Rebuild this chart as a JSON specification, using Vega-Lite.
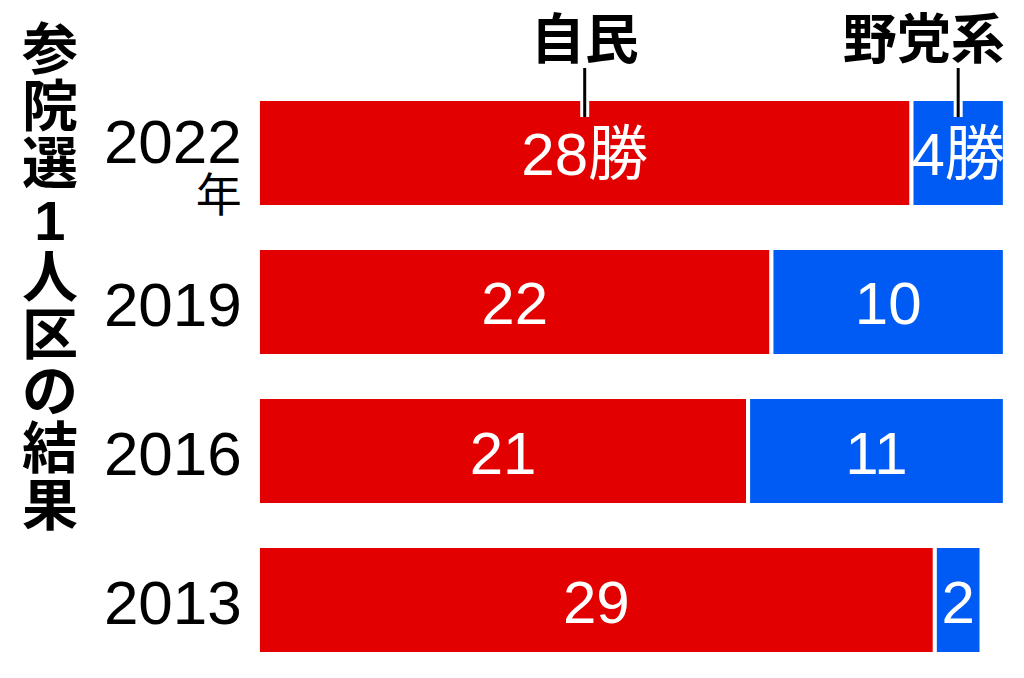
{
  "$schema": "https://vega.github.io/schema/vega-lite/v6.json",
  "width": 1024,
  "height": 678,
  "padding": 0,
  "autosize": {"type": "none"},
  "background": "white",
  "config": {"view": {"stroke": null}},
  "datasets": {
    "wins": [
      {"year": "2022", "party": "自民", "wins": 28, "label": "28勝"},
      {"year": "2022", "party": "野党系", "wins": 4, "label": "4勝"},
      {"year": "2019", "party": "自民", "wins": 22, "label": "22"},
      {"year": "2019", "party": "野党系", "wins": 10, "label": "10"},
      {"year": "2016", "party": "自民", "wins": 21, "label": "21"},
      {"year": "2016", "party": "野党系", "wins": 11, "label": "11"},
      {"year": "2013", "party": "自民", "wins": 29, "label": "29"},
      {"year": "2013", "party": "野党系", "wins": 2, "label": "2"}
    ]
  },
  "data": {"name": "wins"},
  "transform": [
    {"stack": "wins", "groupby": ["year"], "sort": [{"field": "party", "order": "ascending"}], "as": ["x0", "x1"]}
  ],
  "encoding": {
    "y": {
      "field": "year",
      "type": "nominal",
      "axis": null,
      "scale": {"domain": ["2022", "2019", "2016", "2013"], "paddingInner": 0.275, "paddingOuter": 0.4125, "align": 0.805}
    }
  },
  "layer": [
    {
      "mark": {"type": "bar", "stroke": "white", "strokeWidth": 4},
      "encoding": {
        "x": {"field": "x0", "type": "quantitative", "axis": null, "scale": {"domain": [-11.05, 32.82], "nice": false, "zero": false}},
        "x2": {"field": "x1"},
        "color": {"field": "party", "type": "nominal", "legend": null, "scale": {"domain": ["自民", "野党系"], "range": ["#e30000", "#005bf4"]}}
      }
    },
    {
      "transform": [{"fold": ["x0", "x1"], "as": ["k", "v"]}],
      "mark": {"type": "text", "color": "white", "font": "Liberation Sans, Noto Sans CJK JP", "fontSize": 60, "align": "center", "baseline": "alphabetic", "dy": 22.5},
      "encoding": {
        "x": {"aggregate": "mean", "field": "v", "type": "quantitative"},
        "text": {"field": "label", "type": "nominal"}
      }
    },
    {
      "transform": [{"filter": "datum.party == '自民' && datum.year != '2022'"}],
      "mark": {"type": "text", "color": "black", "font": "Liberation Sans", "fontSize": 62, "align": "right", "baseline": "alphabetic", "dy": 24},
      "encoding": {
        "x": {"datum": -0.69, "type": "quantitative"},
        "text": {"field": "year", "type": "nominal"}
      }
    },
    {
      "transform": [{"filter": "datum.party == '自民' && datum.year == '2022'"}],
      "mark": {"type": "text", "color": "black", "font": "Liberation Sans", "fontSize": 62, "align": "right", "baseline": "alphabetic", "dy": 10},
      "encoding": {
        "x": {"datum": -0.69, "type": "quantitative"},
        "text": {"field": "year", "type": "nominal"}
      }
    },
    {
      "transform": [{"filter": "datum.party == '自民' && datum.year == '2022'"}],
      "mark": {"type": "text", "color": "black", "font": "Noto Sans CJK JP", "fontSize": 46, "align": "right", "baseline": "alphabetic", "dy": 58, "text": "年"},
      "encoding": {
        "x": {"datum": -0.69, "type": "quantitative"}
      }
    },
    {
      "transform": [{"filter": "datum.party == '自民' && datum.year == '2022'"}],
      "mark": {
        "type": "text", "color": "black", "font": "Liberation Sans, Noto Sans CJK JP", "fontWeight": "bold", "fontSize": 56, "lineHeight": 57,
        "align": "center", "baseline": "top", "dy": -128,
        "text": ["参", "院", "選", "1", "人", "区", "の", "結", "果"]
      },
      "encoding": {
        "x": {"datum": -8.91, "type": "quantitative"}
      }
    },
    {
      "transform": [{"filter": "datum.year == '2022'"}, {"fold": ["x0", "x1"], "as": ["k", "v"]}],
      "mark": {"type": "tick", "color": "white", "orient": "vertical", "size": 49, "thickness": 9, "opacity": 1, "yOffset": -60.5},
      "encoding": {
        "x": {"aggregate": "mean", "field": "v", "type": "quantitative"},
        "detail": {"field": "party"}
      }
    },
    {
      "transform": [{"filter": "datum.year == '2022'"}, {"fold": ["x0", "x1"], "as": ["k", "v"]}],
      "mark": {"type": "tick", "color": "black", "orient": "vertical", "size": 49, "thickness": 3, "opacity": 1, "yOffset": -60.5},
      "encoding": {
        "x": {"aggregate": "mean", "field": "v", "type": "quantitative"},
        "detail": {"field": "party"}
      }
    },
    {
      "transform": [{"filter": "datum.year == '2022' && datum.party == '自民'"}, {"fold": ["x0", "x1"], "as": ["k", "v"]}],
      "mark": {"type": "text", "color": "black", "font": "Noto Sans CJK JP", "fontWeight": "bold", "fontSize": 54, "align": "center", "baseline": "alphabetic", "dy": -94},
      "encoding": {
        "x": {"aggregate": "mean", "field": "v", "type": "quantitative"},
        "text": {"field": "party", "type": "nominal"}
      }
    },
    {
      "transform": [{"filter": "datum.year == '2022' && datum.party == '野党系'"}],
      "mark": {"type": "text", "color": "black", "font": "Noto Sans CJK JP", "fontWeight": "bold", "fontSize": 54, "align": "right", "baseline": "alphabetic", "dy": -94},
      "encoding": {
        "x": {"field": "x1", "type": "quantitative"},
        "text": {"field": "party", "type": "nominal"}
      }
    }
  ]
}
